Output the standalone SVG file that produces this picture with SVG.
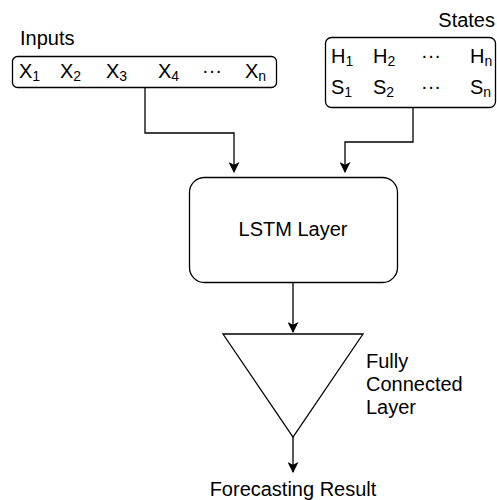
<svg xmlns="http://www.w3.org/2000/svg" width="497" height="500" viewBox="0 0 497 500">
<defs>
<style>
text{font-family:"Liberation Sans",Arial,sans-serif;fill:#000}
.lbl{font-size:20px}
.v{font-size:20px}
.sub{font-size:14px}
.box{fill:#fff;stroke:#000;stroke-width:1.3}
.con{fill:none;stroke:#000;stroke-width:1.3}
</style>
<marker id="ah" viewBox="0 0 10 10" refX="9" refY="5" markerWidth="11" markerHeight="11" markerUnits="userSpaceOnUse" orient="auto">
<path d="M0,0 L10,5 L0,10 L2.5,5 Z" fill="#000"/>
</marker>
</defs>
<g id="connectors">
<path class="con" d="M145,88 V133 H234 V172" marker-end="url(#ah)"/>
<path class="con" d="M413,108 V142 H345 V172" marker-end="url(#ah)"/>
<path class="con" d="M293,282 V332" marker-end="url(#ah)"/>
<path class="con" d="M293,437 V472" marker-end="url(#ah)"/>
</g>
<g id="inputs">
<text class="lbl" x="20" y="45">Inputs</text>
<rect class="box" x="12.5" y="56.5" width="264" height="31" rx="5"/>
<text class="v" x="19" y="78">X<tspan class="sub" dy="3">1</tspan></text>
<text class="v" x="60" y="78">X<tspan class="sub" dy="3">2</tspan></text>
<text class="v" x="106" y="78">X<tspan class="sub" dy="3">3</tspan></text>
<text class="v" x="158" y="78">X<tspan class="sub" dy="3">4</tspan></text>
<text class="v" x="202" y="77">···</text>
<text class="v" x="245" y="78">X<tspan class="sub" dy="3">n</tspan></text>
</g>
<g id="states">
<text class="lbl" x="495" y="27" text-anchor="end">States</text>
<rect class="box" x="325.5" y="37.5" width="170" height="70" rx="6"/>
<text class="v" x="331" y="63">H<tspan class="sub" dy="3">1</tspan></text>
<text class="v" x="373" y="63">H<tspan class="sub" dy="3">2</tspan></text>
<text class="v" x="421" y="62">···</text>
<text class="v" x="470" y="63">H<tspan class="sub" dy="3">n</tspan></text>
<text class="v" x="331" y="94">S<tspan class="sub" dy="3">1</tspan></text>
<text class="v" x="373" y="94">S<tspan class="sub" dy="3">2</tspan></text>
<text class="v" x="421" y="93">···</text>
<text class="v" x="470" y="94">S<tspan class="sub" dy="3">n</tspan></text>
</g>
<g id="lstm">
<rect class="box" x="189.5" y="177.5" width="208" height="105" rx="15"/>
<text class="lbl" x="293" y="236" text-anchor="middle">LSTM Layer</text>
</g>
<g id="fc">
<path class="box" d="M223,334 H363 L293,437 Z"/>
<text class="lbl" x="366" y="368">Fully</text>
<text class="lbl" x="366" y="391">Connected</text>
<text class="lbl" x="366" y="414">Layer</text>
</g>
<g id="result">
<text class="lbl" x="293" y="496" text-anchor="middle">Forecasting Result</text>
</g>
</svg>
